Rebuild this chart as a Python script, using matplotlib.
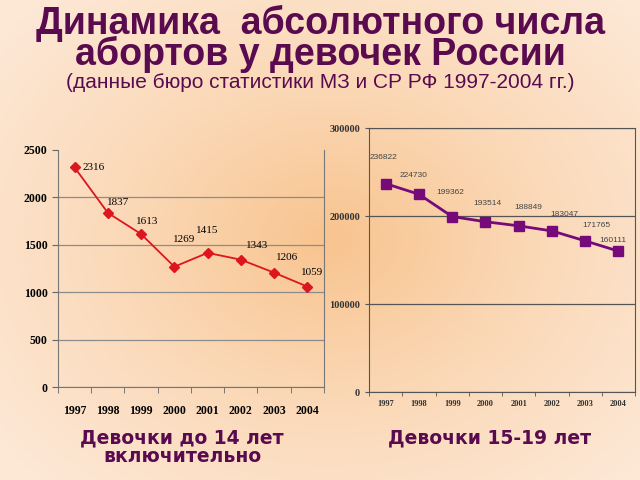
import matplotlib
matplotlib.use("Agg")
import matplotlib.pyplot as plt
import numpy as np
from matplotlib.colors import LinearSegmentedColormap

years = ["1997", "1998", "1999", "2000", "2001", "2002", "2003", "2004"]
girls_14 = [2316, 1837, 1613, 1269, 1415, 1343, 1206, 1059]
girls_15_19 = [236822, 224730, 199362, 193514, 188849, 183047, 171765, 160111]

# label offsets (pixels)
off_left = [(19, 0), (10, 10), (6, 13), (10, 27), (0, 22), (16, 14), (13, 15), (5, 14)]
off_right = [(-2, 26), (-5, 19), (-2, 24), (2, 18), (10, 18), (12, 16), (11, 15), (-5, 11)]

title_color = "#5a0a4e"

fig = plt.figure(figsize=(6.4, 4.8), dpi=100)

# peach background, a bit more orange in the middle
bg = fig.add_axes([0, 0, 1, 1], zorder=-10)
yy, xx = np.mgrid[0:480, 0:640]
r = np.sqrt(((xx - 330) / 420.0) ** 2 + ((yy - 240) / 330.0) ** 2)
cmap = LinearSegmentedColormap.from_list("bg", ["#f8c48f", "#fbd9b8", "#fde8d6"])
bg.imshow(np.clip(r, 0, 1), cmap=cmap, aspect="auto", extent=[0, 1, 0, 1])
bg.set_axis_off()

x = np.arange(len(years))

# left chart
ax1 = fig.add_axes([0.0906, 0.19375, 0.4156, 0.49375])
ax1.patch.set_alpha(0)
ax1.plot(x, girls_14, color="#dc161e", lw=1.3, marker="D", ms=5, zorder=3)
ax1.set_xlim(-0.5, 7.5)
ax1.set_ylim(0, 2500)
ax1.set_yticks(range(0, 2501, 500))
ax1.set_xticks(x)
ax1.set_xticklabels(years)
ax1.set_xticks(np.arange(-0.5, 8, 1), minor=True)
ax1.tick_params(axis="x", which="major", length=0, pad=13)
ax1.tick_params(axis="x", which="minor", length=4, color="#666666")
ax1.tick_params(axis="y", length=4, color="#666666")
for lab in ax1.get_xticklabels() + ax1.get_yticklabels():
    lab.set_family("Liberation Serif")
    lab.set_fontweight("bold")
    lab.set_fontsize(8.5)
ax1.grid(axis="y", color="#8c8c8c", lw=0.9)
ax1.get_ygridlines()[-1].set_visible(False)
ax1.spines["top"].set_visible(False)
for s in ("left", "right", "bottom"):
    ax1.spines[s].set_color("#777777")
for xi, v, off in zip(x, girls_14, off_left):
    ax1.annotate(str(v), (xi, v), xytext=off, textcoords="offset pixels",
                 ha="center", va="center", family="Liberation Serif", fontsize=8)

# right chart
ax2 = fig.add_axes([0.5766, 0.1833, 0.4156, 0.55])
ax2.patch.set_alpha(0)
ax2.plot(x, girls_15_19, color="#760a78", lw=2.0, marker="s", ms=6.5, zorder=3)
ax2.set_xlim(-0.5, 7.5)
ax2.set_ylim(0, 300000)
ax2.set_yticks(range(0, 300001, 100000))
ax2.set_xticks(x)
ax2.set_xticklabels(years)
ax2.set_xticks(np.arange(-0.5, 8, 1), minor=True)
ax2.tick_params(axis="x", which="major", length=0, pad=6)
ax2.tick_params(axis="x", which="minor", length=3, color="#555555")
ax2.tick_params(axis="y", length=3, color="#555555")
for lab in ax2.get_xticklabels():
    lab.set_family("Liberation Serif")
    lab.set_fontweight("bold")
    lab.set_fontsize(6)
    lab.set_color("#333333")
for lab in ax2.get_yticklabels():
    lab.set_family("Liberation Serif")
    lab.set_fontweight("bold")
    lab.set_fontsize(7.5)
    lab.set_color("#333333")
ax2.grid(axis="y", color="#555555", lw=0.9)
for s in ax2.spines.values():
    s.set_color("#555555")
for xi, v, off in zip(x, girls_15_19, off_right):
    ax2.annotate(str(v), (xi, v), xytext=off, textcoords="offset pixels",
                 ha="center", va="center", family="Liberation Sans", fontsize=6,
                 color="#444444")

# titles
fig.text(0.5, 1 - 39 / 480, "Динамика  абсолютного числа\nабортов у девочек России",
         ha="center", va="center", linespacing=0.78,
         family="Liberation Sans", fontweight="bold", fontsize=27, color=title_color)
fig.text(0.5, 1 - 82 / 480, "(данные бюро статистики МЗ и СР РФ 1997-2004 гг.)",
         ha="center", va="center", family="Liberation Sans", fontsize=15,
         color=title_color)

fig.text(182 / 640, 1 - 447 / 480, "Девочки до 14 лет\nвключительно", ha="center",
         va="center", linespacing=0.95,
         family="DejaVu Sans", fontweight="bold", fontsize=13.5, color=title_color)
fig.text(490 / 640, 1 - 438 / 480, "Девочки 15-19 лет", ha="center", va="center",
         family="DejaVu Sans", fontweight="bold", fontsize=13.5, color=title_color)

fig.savefig("out.png", dpi=100)
